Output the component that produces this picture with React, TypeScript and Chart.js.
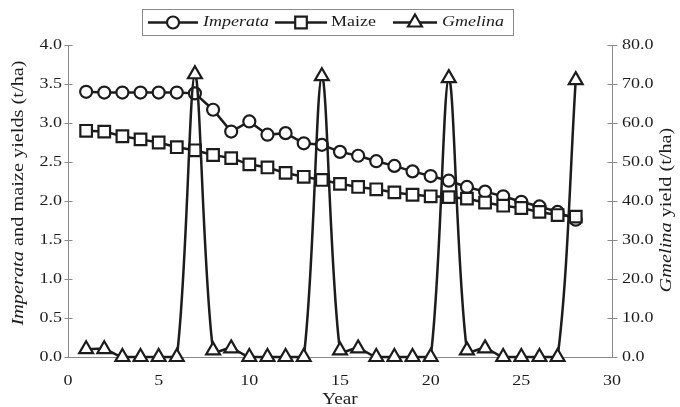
import React, { useEffect, useRef } from "react";
import { Chart, registerables } from "chart.js";

Chart.register(...registerables);

// ---------------- data ----------------
const years = [1, 2, 3, 4, 5, 6, 7, 8, 9, 10, 11, 12, 13, 14, 15, 16, 17, 18, 19, 20, 21, 22, 23, 24, 25, 26, 27, 28];
const imperata = [3.4, 3.39, 3.39, 3.39, 3.39, 3.39, 3.38, 3.17, 2.89, 3.02, 2.85, 2.87, 2.74, 2.72, 2.63, 2.58, 2.51, 2.45, 2.38, 2.32, 2.26, 2.18, 2.12, 2.06, 1.99, 1.93, 1.86, 1.76];
const maize = [2.9, 2.89, 2.83, 2.79, 2.75, 2.69, 2.65, 2.59, 2.55, 2.47, 2.43, 2.36, 2.31, 2.27, 2.22, 2.18, 2.15, 2.11, 2.08, 2.06, 2.05, 2.03, 1.98, 1.94, 1.91, 1.86, 1.82, 1.8];
const gmelina = [2.0, 2.0, 0, 0, 0, 0, 72.5, 1.7, 2.2, 0, 0, 0, 0, 72, 1.7, 2.2, 0, 0, 0, 0, 71.5, 1.7, 2.2, 0, 0, 0, 0, 71];

const xTicks = [0, 5, 10, 15, 20, 25, 30];
const leftTicks = [0, 0.5, 1, 1.5, 2, 2.5, 3, 3.5, 4];
const rightTicks = [0, 10, 20, 30, 40, 50, 60, 70, 80];

const seriesNames = ["Imperata", "Maize", "Gmelina"];
const seriesItalic = [true, false, true];
const leftTitle = [
  { text: "Imperata", italic: true },
  { text: " and maize yields (t/ha)", italic: false },
];
const rightTitle = [
  { text: "Gmelina", italic: true },
  { text: " yield (t/ha)", italic: false },
];
const xTitle = "Year";

// ---------------- style ----------------
const INK = "#1c1c1c";
const AXIS = "#8a8a8a";
const FONT = "'Liberation Serif', 'Times New Roman', serif";
const FS = 15;
const SX = 1.2;
const TFS = 16;
const TSX = 1.27;

type Run = { text: string; italic: boolean };

function fontFor(italic: boolean, size: number) {
  return `${italic ? "italic " : ""}${size}px ${FONT}`;
}

function drawRuns(
  ctx: CanvasRenderingContext2D,
  runs: Run[],
  x: number,
  y: number,
  align: "left" | "center" | "right",
  size = FS,
  sx = SX
) {
  const widths = runs.map((r) => {
    ctx.font = fontFor(r.italic, size);
    return ctx.measureText(r.text).width;
  });
  const total = widths.reduce((a, b) => a + b, 0) * sx;
  const start = align === "left" ? x : align === "center" ? x - total / 2 : x - total;
  ctx.save();
  ctx.translate(start, y);
  ctx.scale(sx, 1);
  ctx.textAlign = "left";
  ctx.textBaseline = "middle";
  ctx.fillStyle = INK;
  let cx = 0;
  runs.forEach((r, i) => {
    ctx.font = fontFor(r.italic, size);
    ctx.fillText(r.text, cx, 0);
    cx += widths[i];
  });
  ctx.restore();
}

function drawMarker(ctx: CanvasRenderingContext2D, style: string, x: number, y: number) {
  ctx.save();
  ctx.fillStyle = "#ffffff";
  ctx.strokeStyle = INK;
  ctx.lineWidth = 2.2;
  ctx.beginPath();
  if (style === "circle") {
    ctx.arc(x, y, 6, 0, Math.PI * 2);
  } else if (style === "rect") {
    const s = 5.8;
    ctx.rect(x - s, y - s, 2 * s, 2 * s);
  } else {
    const r = 8;
    for (let k = 0; k < 3; k++) {
      const a = (k * 2 * Math.PI) / 3;
      const px = x + Math.sin(a) * r;
      const py = y - Math.cos(a) * r;
      if (k === 0) ctx.moveTo(px, py);
      else ctx.lineTo(px, py);
    }
    ctx.closePath();
  }
  ctx.fill();
  ctx.stroke();
  ctx.restore();
}

const legendBox = { left: 142.5, top: 9.5, right: 513.5, bottom: 35.5 };
const legendItems = [
  { seg: [148, 198], textX: 203, marker: "circle" },
  { seg: [275, 327], textX: 331, marker: "rect" },
  { seg: [393, 437], textX: 442, marker: "triangle" },
];

const customPlugin = {
  id: "customAxes",
  beforeDatasetsDraw(chart: any) {
    const { ctx, chartArea: a, scales } = chart;
    ctx.save();
    ctx.strokeStyle = AXIS;
    ctx.lineWidth = 1;
    ctx.beginPath();
    const L = Math.round(a.left) + 0.5;
    const R = Math.round(a.right) + 0.5;
    const B = Math.round(a.bottom) + 0.5;
    ctx.moveTo(L, a.top);
    ctx.lineTo(L, B);
    ctx.moveTo(R, a.top);
    ctx.lineTo(R, B);
    ctx.moveTo(L, B);
    ctx.lineTo(R, B);
    leftTicks.forEach((v) => {
      const y = Math.round(scales.y.getPixelForValue(v)) + 0.5;
      ctx.moveTo(L - 4, y);
      ctx.lineTo(L + 4, y);
    });
    rightTicks.forEach((v) => {
      const y = Math.round(scales.y1.getPixelForValue(v)) + 0.5;
      ctx.moveTo(R - 5, y);
      ctx.lineTo(R + 5, y);
    });
    ctx.stroke();
    ctx.restore();
  },
  afterDraw(chart: any) {
    const { ctx, chartArea: a, scales } = chart;
    // tick labels
    leftTicks.forEach((v) => {
      drawRuns(ctx, [{ text: v.toFixed(1), italic: false }], a.left - 6, scales.y.getPixelForValue(v), "right");
    });
    rightTicks.forEach((v) => {
      drawRuns(ctx, [{ text: v.toFixed(1), italic: false }], a.right + 10, scales.y1.getPixelForValue(v), "left");
    });
    xTicks.forEach((v) => {
      drawRuns(ctx, [{ text: String(v), italic: false }], scales.x.getPixelForValue(v), a.bottom + 24, "center");
    });
    // axis titles
    drawRuns(ctx, [{ text: xTitle, italic: false }], (a.left + a.right) / 2, a.bottom + 43, "center", TFS, SX);
    ctx.save();
    ctx.translate(19, 193);
    ctx.rotate(-Math.PI / 2);
    drawRuns(ctx, leftTitle, 0, 0, "center", TFS, TSX);
    ctx.restore();
    ctx.save();
    ctx.translate(667, 210);
    ctx.rotate(-Math.PI / 2);
    drawRuns(ctx, rightTitle, 0, 0, "center", TFS, TSX);
    ctx.restore();
    // legend
    ctx.save();
    ctx.strokeStyle = AXIS;
    ctx.lineWidth = 1;
    ctx.strokeRect(
      legendBox.left,
      legendBox.top,
      legendBox.right - legendBox.left,
      legendBox.bottom - legendBox.top
    );
    const cy = (legendBox.top + legendBox.bottom) / 2;
    legendItems.forEach((it, i) => {
      ctx.strokeStyle = INK;
      ctx.lineWidth = 2.5;
      ctx.beginPath();
      ctx.moveTo(it.seg[0], cy);
      ctx.lineTo(it.seg[1], cy);
      ctx.stroke();
      drawMarker(ctx, it.marker, (it.seg[0] + it.seg[1]) / 2, cy);
      drawRuns(ctx, [{ text: seriesNames[i], italic: seriesItalic[i] }], it.textX, cy, "left");
    });
    ctx.restore();
  },
};

export default function App() {
  const ref = useRef<HTMLCanvasElement | null>(null);
  useEffect(() => {
    if (!ref.current) return;
    const common = {
      borderColor: INK,
      borderWidth: 2.5,
      pointBackgroundColor: "#ffffff",
      pointBorderColor: INK,
      pointBorderWidth: 2.2,
      clip: false as const,
    };
    const chart = new Chart(ref.current, {
      type: "line",
      data: {
        datasets: [
          {
            ...common,
            label: seriesNames[2],
            data: years.map((x, i) => ({ x, y: gmelina[i] })),
            pointStyle: "triangle",
            pointRadius: 8,
            tension: 0.3,
            yAxisID: "y1",
            order: 0,
          },
          {
            ...common,
            label: seriesNames[1],
            data: years.map((x, i) => ({ x, y: maize[i] })),
            pointStyle: "rect",
            pointRadius: 8.2,
            tension: 0,
            yAxisID: "y",
            order: 1,
          },
          {
            ...common,
            label: seriesNames[0],
            data: years.map((x, i) => ({ x, y: imperata[i] })),
            pointStyle: "circle",
            pointRadius: 6,
            tension: 0,
            yAxisID: "y",
            order: 2,
          },
        ],
      },
      options: {
        responsive: false,
        animation: false,
        devicePixelRatio: 1,
        layout: { padding: { left: 68, top: 45, right: 68, bottom: 50 } },
        plugins: { legend: { display: false }, tooltip: { enabled: false } },
        scales: {
          x: { type: "linear", min: 0, max: 30, display: false },
          y: { type: "linear", position: "left", min: 0, max: 4, display: false },
          y1: { type: "linear", position: "right", min: 0, max: 80, display: false },
        },
      },
      plugins: [customPlugin],
    } as any);
    return () => chart.destroy();
  }, []);
  return (
    <div style={{ position: "fixed", left: 0, top: 0, width: 680, height: 407, background: "#fff" }}>
      <canvas ref={ref} width={680} height={407} style={{ display: "block" }} />
    </div>
  );
}
